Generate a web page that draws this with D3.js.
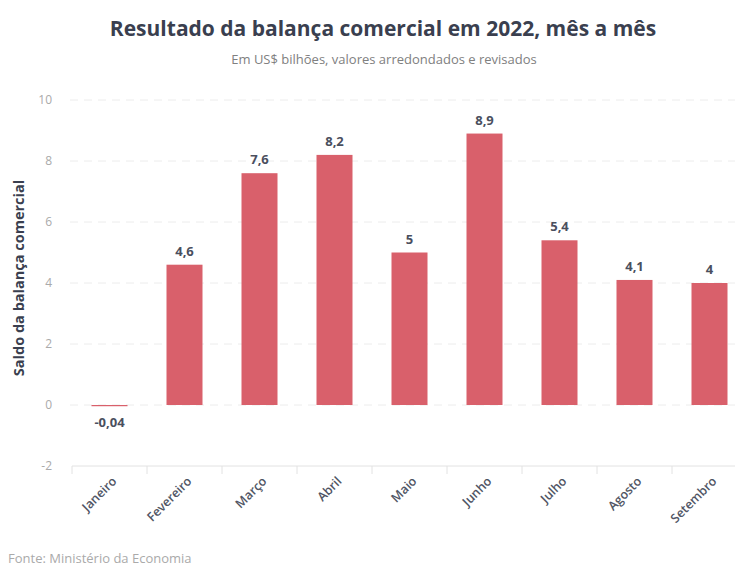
<!DOCTYPE html>
<html><head><meta charset="utf-8">
<script src="https://cdn.jsdelivr.net/npm/d3@7"></script>
<style>body{margin:0;background:#fff;} svg{display:block;font-family:"Open Sans",sans-serif;}</style>
</head><body><svg id="c" width="735" height="567"></svg>
<script>
const months = ["Janeiro","Fevereiro","Março","Abril","Maio","Junho","Julho","Agosto","Setembro"];
const values = [-0.04, 4.6, 7.6, 8.2, 5, 8.9, 5.4, 4.1, 4];
const labels = ["-0,04","4,6","7,6","8,2","5","8,9","5,4","4,1","4"];
const yTicks = [-2, 0, 2, 4, 6, 8, 10];

const svg = d3.select("#c");
const x = d3.scaleBand().domain(months).range([72, 747]).paddingInner(0.52).paddingOuter(0.26);
const y = d3.scaleLinear().domain([-2, 10]).range([466, 100]);

svg.append("text").attr("x", 383).attr("y", 36).attr("text-anchor", "middle")
  .attr("font-size", 21).attr("font-weight", 700).attr("fill", "#3a3f4f")
  .text("Resultado da balança comercial em 2022, mês a mês");
svg.append("text").attr("x", 384).attr("y", 64).attr("text-anchor", "middle")
  .attr("font-size", 13).attr("fill", "#808080")
  .text("Em US$ bilhões, valores arredondados e revisados");

// gridlines
svg.append("g").selectAll("line").data(yTicks.filter(d => d !== -2)).join("line")
  .attr("x1", 70).attr("x2", 735).attr("y1", d => y(d)).attr("y2", d => y(d))
  .attr("stroke", "#ececec").attr("stroke-dasharray", "8,6").attr("stroke-width", 1);

// y tick labels
svg.append("g").selectAll("text").data(yTicks).join("text")
  .attr("x", 52).attr("y", d => y(d) + 4).attr("text-anchor", "end")
  .attr("font-size", 12).attr("fill", "#aaaaaa").text(d => d);

svg.append("text").attr("transform", "translate(24,278) rotate(-90)").attr("text-anchor", "middle")
  .attr("font-size", 14.5).attr("font-weight", 700).attr("fill", "#3a3f4f")
  .text("Saldo da balança comercial");

// x axis
const xAxis = svg.append("g").attr("transform", `translate(0,${y(-2)})`);
xAxis.append("line").attr("x1", 72).attr("x2", 735).attr("stroke", "#e2e2e2");
const step = x.step();
xAxis.selectAll("line.t").data(months).join("line").attr("class", "t")
  .attr("x1", d => x(d) - x.paddingOuter() * step).attr("x2", d => x(d) - x.paddingOuter() * step)
  .attr("y1", 0).attr("y2", 8).attr("stroke", "#e2e2e2");
xAxis.selectAll("text").data(months).join("text")
  .attr("transform", d => `translate(${x(d) + x.bandwidth() / 2 + 8},${16}) rotate(-45)`)
  .attr("text-anchor", "end").attr("font-size", 12.5).attr("font-weight", 600).attr("fill", "#505564").text(d => d);

// bars
svg.append("g").selectAll("rect").data(values).join("rect")
  .attr("x", (d, i) => x(months[i])).attr("width", x.bandwidth())
  .attr("y", d => y(Math.max(0, d))).attr("height", d => Math.abs(y(d) - y(0)))
  .attr("fill", "#d9606b");

svg.append("g").selectAll("text").data(values).join("text")
  .attr("x", (d, i) => x(months[i]) + x.bandwidth() / 2)
  .attr("y", d => d >= 0 ? y(d) - 9 : y(0) + 22)
  .attr("text-anchor", "middle").attr("font-size", 13).attr("font-weight", 700).attr("fill", "#4a4f5e")
  .text((d, i) => labels[i]);

svg.append("text").attr("x", 8).attr("y", 563).attr("font-size", 13).attr("fill", "#aaaaaa")
  .text("Fonte: Ministério da Economia");
</script></body></html>
